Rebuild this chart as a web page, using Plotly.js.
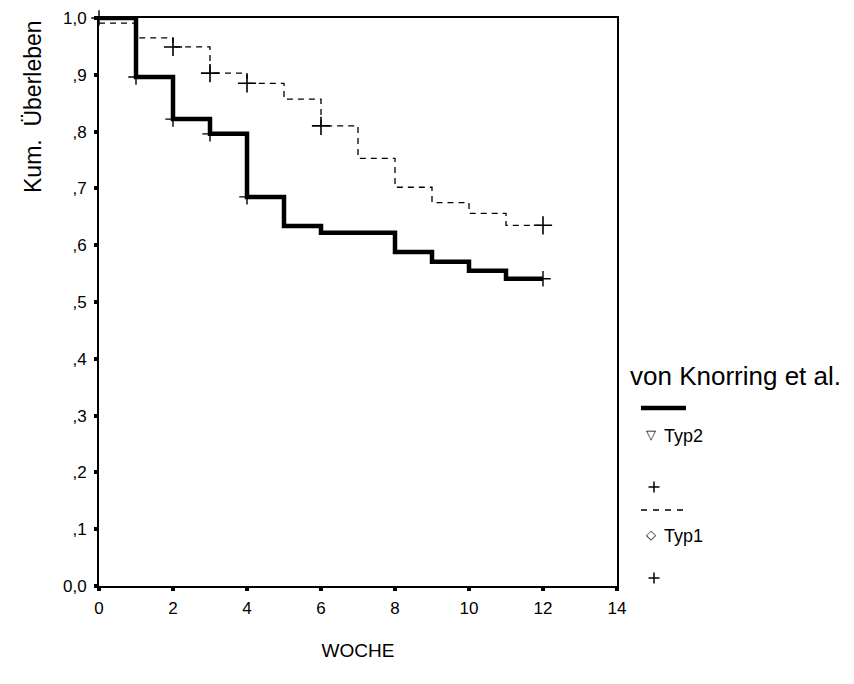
<!DOCTYPE html>
<html>
<head>
<meta charset="utf-8">
<script src="https://cdn.plot.ly/plotly-3.0.1.min.js"></script>
<style>
  html, body { margin: 0; padding: 0; background: #fff; }
  #chart { width: 854px; height: 684px; }
</style>
</head>
<body>
<div id="chart"></div>
<script>
// Kaplan-Meier survival by week, two groups (von Knorring et al.)
const weeks = [0, 1, 2, 3, 4, 5, 6, 7, 8, 9, 10, 11, 12];

// Cumulative survival at the start of each week interval (last value held to week 12)
const survTyp2 = [1.000, 0.896, 0.822, 0.796, 0.685, 0.634, 0.622, 0.622, 0.588, 0.571, 0.555, 0.541, 0.541];
const survTyp1 = [0.991, 0.965, 0.949, 0.903, 0.885, 0.857, 0.810, 0.753, 0.702, 0.675, 0.656, 0.635, 0.635];

// Censored observations (weeks)
const censTyp2 = [0, 1, 2, 3, 4, 12];
const censTyp1 = [2, 3, 4, 6, 12];

const xTicks = [0, 2, 4, 6, 8, 10, 12, 14];
const yTicks = [0, 0.1, 0.2, 0.3, 0.4, 0.5, 0.6, 0.7, 0.8, 0.9, 1.0];
const yTickText = ['0,0', ',1', ',2', ',3', ',4', ',5', ',6', ',7', ',8', ',9', '1,0'];

const groupTitle = 'von Knorring et al.';
const labelTyp2 = 'Typ2';
const labelTyp1 = 'Typ1';

function survAt(weeksArr, surv, t) {
  let v = surv[0];
  for (let i = 0; i < weeksArr.length; i++) {
    if (weeksArr[i] <= t) v = surv[i];
  }
  return v;
}

const FONT = 'Liberation Sans, Arial, sans-serif';

const traces = [
  {
    x: weeks, y: survTyp1, type: 'scatter', mode: 'lines',
    line: { shape: 'hv', color: '#000', width: 1.3, dash: '6px,5px' },
    hoverinfo: 'skip', showlegend: false
  },
  {
    x: weeks, y: survTyp2, type: 'scatter', mode: 'lines',
    line: { shape: 'hv', color: '#000', width: 4.5 },
    hoverinfo: 'skip', showlegend: false
  },
  {
    x: censTyp1, y: censTyp1.map(t => survAt(weeks, survTyp1, t)),
    type: 'scatter', mode: 'markers', cliponaxis: false,
    marker: { symbol: 'cross-thin', size: 13, line: { color: '#000', width: 1.6 } },
    hoverinfo: 'skip', showlegend: false
  },
  {
    x: censTyp2, y: censTyp2.map(t => survAt(weeks, survTyp2, t)),
    type: 'scatter', mode: 'markers', cliponaxis: false,
    marker: { symbol: 'cross-thin', size: 11, line: { color: '#000', width: 1.4 } },
    hoverinfo: 'skip', showlegend: false
  }
];

// Plot area in pixels, used to place the side key in paper units
const L = 99, R = 617, T = 18, B = 586;
const px = v => (v - L) / (R - L);
const py = v => (B - v) / (B - T);

function plusShape(cx, cy, half) {
  return [
    { type: 'line', xref: 'paper', yref: 'paper', x0: px(cx - half), x1: px(cx + half), y0: py(cy), y1: py(cy),
      line: { color: '#000', width: 1.5 } },
    { type: 'line', xref: 'paper', yref: 'paper', x0: px(cx), x1: px(cx), y0: py(cy - half), y1: py(cy + half),
      line: { color: '#000', width: 1.5 } }
  ];
}

const shapes = [
  { type: 'line', xref: 'paper', yref: 'paper', x0: px(641), x1: px(686), y0: py(408), y1: py(408),
    line: { color: '#000', width: 4.5 } },
  { type: 'line', xref: 'paper', yref: 'paper', x0: px(641), x1: px(688), y0: py(510), y1: py(510),
    line: { color: '#000', width: 1.3, dash: '6px,6px' } },
  ...plusShape(654, 487, 5.5),
  ...plusShape(654, 578, 5.5)
];

const keyFont = { family: FONT, size: 18, color: '#000' };
const annotations = [
  { text: 'Kum.  Überleben', xref: 'paper', yref: 'paper', x: px(33), y: py(107),
    textangle: -90, showarrow: false, xanchor: 'center', yanchor: 'middle',
    font: { family: FONT, size: 23, color: '#000' } },
  { text: groupTitle, xref: 'paper', yref: 'paper', x: px(628), y: py(376),
    showarrow: false, xanchor: 'left', yanchor: 'middle',
    font: { family: FONT, size: 26, color: '#000' } },
  { text: '▽', xref: 'paper', yref: 'paper', x: px(651), y: py(434), showarrow: false,
    xanchor: 'center', yanchor: 'middle', font: { family: 'DejaVu Sans', size: 13, color: '#000' } },
  { text: labelTyp2, xref: 'paper', yref: 'paper', x: px(662), y: py(436), showarrow: false,
    xanchor: 'left', yanchor: 'middle', font: keyFont },
  { text: '◇', xref: 'paper', yref: 'paper', x: px(651), y: py(534), showarrow: false,
    xanchor: 'center', yanchor: 'middle', font: { family: 'DejaVu Sans', size: 13, color: '#000' } },
  { text: labelTyp1, xref: 'paper', yref: 'paper', x: px(662), y: py(536), showarrow: false,
    xanchor: 'left', yanchor: 'middle', font: keyFont }
];

const layout = {
  width: 854, height: 684,
  margin: { l: L, r: 854 - R, t: T, b: 684 - B, pad: 0 },
  paper_bgcolor: '#fff', plot_bgcolor: '#fff',
  font: { family: FONT, size: 17, color: '#000' },
  showlegend: false,
  xaxis: {
    range: [0, 14], tickvals: xTicks, ticktext: xTicks.map(String),
    showgrid: false, zeroline: false,
    showline: true, mirror: true, linecolor: '#000', linewidth: 2,
    ticks: 'outside', ticklen: 3, tickwidth: 4, tickcolor: '#000',
    ticklabelstandoff: 3,
    tickfont: { family: FONT, size: 17, color: '#000' },
    title: { text: 'WOCHE', standoff: 26, font: { family: FONT, size: 19, color: '#000' } }
  },
  yaxis: {
    range: [0, 1.0], tickvals: yTicks, ticktext: yTickText,
    showgrid: false, zeroline: false,
    showline: true, mirror: true, linecolor: '#000', linewidth: 2,
    ticks: 'outside', ticklen: 3, tickwidth: 4, tickcolor: '#000',
    ticklabelstandoff: 4,
    tickfont: { family: FONT, size: 17, color: '#000' }
  },
  shapes: shapes,
  annotations: annotations
};

Plotly.newPlot('chart', traces, layout, { staticPlot: true, displayModeBar: false });
</script>
</body>
</html>
